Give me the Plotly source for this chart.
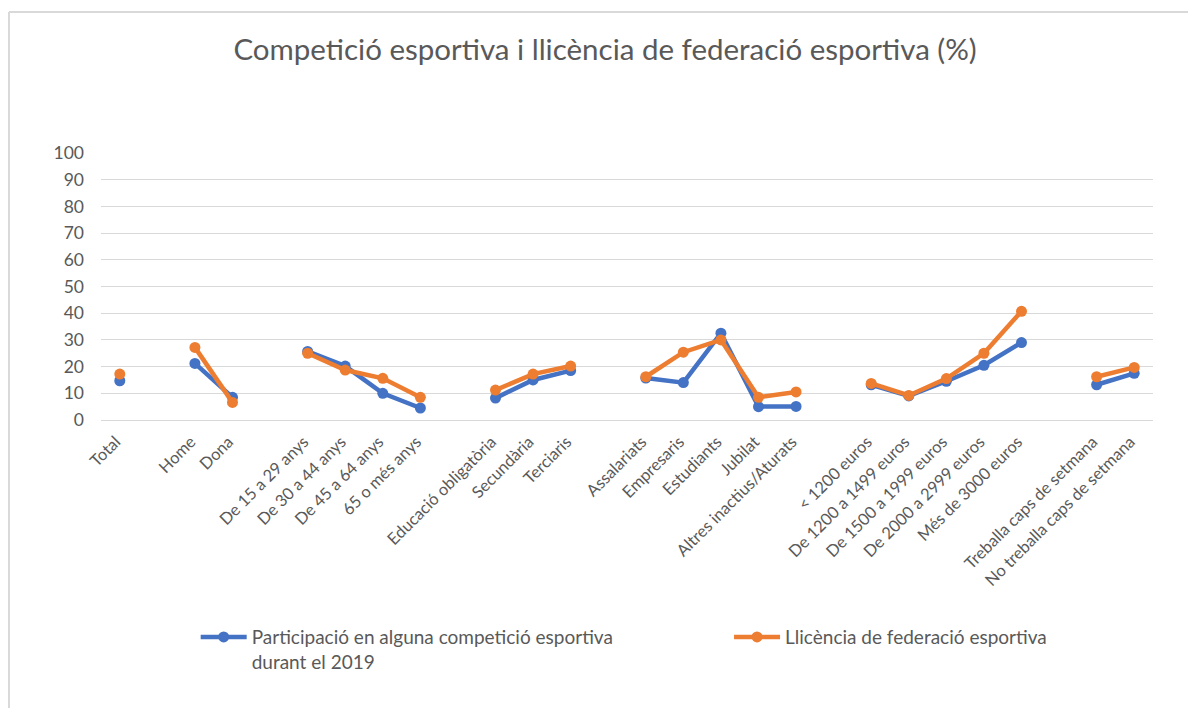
import plotly.graph_objects as go

# empty strings are the gaps between groups
categories = ["Total", "",
              "Home", "Dona", "",
              "De 15 a 29 anys", "De 30 a 44 anys", "De 45 a 64 anys", "65 o més anys", "",
              "Educació obligatòria", "Secundària", "Terciaris", "",
              "Assalariats", "Empresaris", "Estudiants", "Jubilat", "Altres inactius/Aturats", "",
              "< 1200 euros", "De 1200 a 1499 euros", "De 1500 a 1999 euros", "De 2000 a 2999 euros",
              "Més de 3000 euros", "",
              "Treballa caps de setmana", "No treballa caps de setmana"]

participacio = [14.7, None,
                21.2, 8.5, None,
                25.7, 20.2, 10.0, 4.5, None,
                8.2, 15.0, 18.5, None,
                15.7, 14.0, 32.5, 5.0, 5.1, None,
                13.2, 9.0, 14.5, 20.5, 29.0, None,
                13.2, 17.5]

llicencia = [17.2, None,
             27.2, 6.6, None,
             25.0, 18.7, 15.6, 8.5, None,
             11.2, 17.2, 20.2, None,
             16.2, 25.4, 30.0, 8.5, 10.5, None,
             13.7, 9.2, 15.5, 25.0, 40.7, None,
             16.2, 19.7]

series_names = ["Participació en alguna competició esportiva<br>durant el 2019",
                "Llicència de federació esportiva"]

x = list(range(len(categories)))
tickvals = [i for i, c in enumerate(categories) if c]
ticktext = [c for c in categories if c]

fig = go.Figure()
for name, vals, color, leg in [(series_names[0], participacio, "#4472C4", "legend"),
                               (series_names[1], llicencia, "#ED7D31", "legend2")]:
    fig.add_trace(go.Scatter(x=x, y=vals, name=name, mode="lines+markers",
                             line=dict(color=color, width=4.5),
                             marker=dict(color=color, size=11),
                             connectgaps=False, legend=leg))

grey = "#595959"
legend_style = dict(y=-0.742, yanchor="top", xanchor="left", valign="top", itemwidth=46,
                    font=dict(size=19, color=grey), bgcolor="rgba(0,0,0,0)")
fig.update_layout(
    width=1180, height=700,
    paper_bgcolor="white", plot_bgcolor="white",
    margin=dict(l=93, r=35, t=145, b=288),
    font=dict(family="Lato, Carlito, Calibri, sans-serif", color=grey, size=16),
    title=dict(text="Competició esportiva i llicència de federació esportiva (%)",
               x=0.506, xanchor="center", y=0.94, yanchor="middle",
               font=dict(size=29.5, color=grey)),
    showlegend=True,
    legend=dict(x=0.090, **legend_style),
    legend2=dict(x=0.597, **legend_style),
    xaxis=dict(range=[-0.5, len(categories) - 0.5], tickvals=tickvals, ticktext=ticktext,
               tickangle=-45, showgrid=False, zeroline=False, showline=False,
               ticklabelstandoff=8, ticklabelshift=-4,
               tickfont=dict(size=16.5, color=grey)),
    yaxis=dict(range=[0, 100], dtick=10, showgrid=True, gridcolor="#D9D9D9", gridwidth=1,
               zeroline=True, zerolinecolor="#D9D9D9", zerolinewidth=1,
               tickfont=dict(size=17.5, color=grey), ticks="", ticklabelstandoff=16,
               showline=False),
)

# outer chart frame (left and top edges visible)
fig.add_shape(type="line", xref="paper", yref="paper",
              x0=-0.0875, x1=-0.0875, y0=-1.2, y1=1.528,
              line=dict(color="#D9D9D9", width=2))
fig.add_shape(type="line", xref="paper", yref="paper",
              x0=-0.0875, x1=1.05, y0=1.528, y1=1.528,
              line=dict(color="#D9D9D9", width=2))

fig.write_html("out.html")
